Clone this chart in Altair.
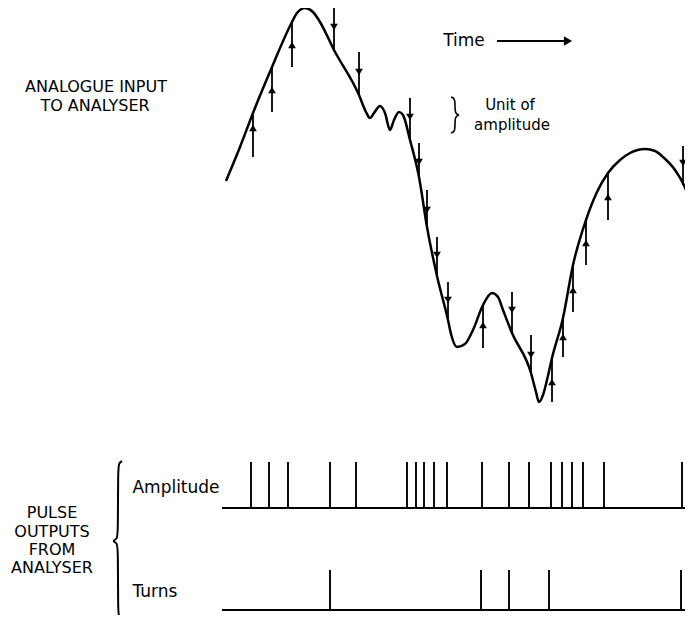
import altair as alt
import pandas as pd

# ---- analogue input curve (time, level) ----
curve_t = [226, 240, 253, 272, 292, 297, 305, 313, 320, 334, 359, 366, 370, 374, 380, 385, 390,
           394, 399, 403, 410, 419, 427, 437, 448, 451, 457, 465, 473, 483, 492, 498, 503, 512,
           531, 536, 539, 543, 547, 552, 563, 573, 586, 597, 608, 620, 630, 645, 655, 663, 675,
           686, 693]
curve_v = [181, 147, 113, 67, 22, 13, 8, 12, 22, 50, 95, 112, 118, 113, 106, 113, 130,
           120, 112, 115, 140, 177, 227, 276, 320, 334, 347, 344, 330, 305, 293, 297, 310, 333,
           373, 392, 402, 395, 380, 358, 318, 265, 220, 192, 173, 160, 153, 149, 151, 157, 170,
           190, 212]

# ---- sampling arrows ----
arrow_t    = [253, 272, 292, 334, 359, 410, 419, 427, 437, 448, 483, 512, 531, 552, 563, 573, 586, 608, 683]
arrow_from = [157, 112, 67, 7, 52, 98, 143, 190, 237, 282, 348, 292, 335, 402, 357, 312, 265, 220, 146]
arrow_to   = [113, 67, 22, 50, 95, 140, 177, 227, 276, 320, 305, 333, 373, 358, 318, 265, 220, 173, 185]
arrow_head = [128, 90, 45, 27, 72, 117, 162, 210, 255, 300, 325, 310, 355, 382, 337, 290, 243, 197, 163]

# ---- pulse outputs ----
amp_pulse_t = [251, 269, 288, 330, 356, 407, 416, 424, 434, 447, 482, 509, 529, 551, 562, 572, 583, 604, 682]
turn_pulse_t = [330, 481, 509, 549, 681]
amp_base, amp_top = 508, 462
turn_base, turn_top = 610, 570
track_start, track_end = 222, 693

# ---- labels ----
label_text = ["ANALOGUE INPUT", "TO ANALYSER", "Time", "Unit of", "amplitude", "Amplitude",
              "PULSE", "OUTPUTS", "FROM", "ANALYSER", "Turns"]
label_x = [96, 95, 464, 510, 512, 176, 52, 52, 52, 52, 155]
label_y = [87, 106, 41, 105, 125, 488, 513, 532, 550, 568, 592]
label_size = [16, 16, 17, 15, 15, 17, 16, 16, 16, 16, 17]

# ---- annotation shapes ----
time_arrow_x = [497, 568]
time_arrow_y = 41
unit_brace_x = [451, 454, 455, 455, 456, 460, 456, 455, 455, 454, 451]
unit_brace_y = [97, 98, 101, 111, 114, 115, 116, 119, 129, 132, 133]
big_brace_x = [122, 119, 118, 118, 117, 112, 117, 118, 118, 119, 122]
big_brace_y = [461, 463, 468, 535, 539, 541, 543, 547, 613, 617, 619]

XS = alt.Scale(domain=[8, 685])
YS = alt.Scale(domain=[8, 615], reverse=True)


def X(f, **kw):
    return alt.X(f, type="quantitative", scale=XS, axis=None, **kw)


def Y(f, **kw):
    return alt.Y(f, type="quantitative", scale=YS, axis=None, **kw)


curve_df = pd.DataFrame({"t": curve_t, "v": curve_v})
curve = alt.Chart(curve_df).mark_line(color="black", strokeWidth=2.5, interpolate="monotone").encode(
    x=X("t"), y=Y("v"))

arr_df = pd.DataFrame({"t": arrow_t, "a": arrow_from, "b": arrow_to, "h": arrow_head})
arr_df["shape"] = ["triangle-up" if b < a else "triangle-down" for a, b in zip(arrow_from, arrow_to)]
shafts = alt.Chart(arr_df).mark_rule(color="black", strokeWidth=1.8).encode(
    x=X("t"), y=Y("a"), y2="b")
heads = alt.Chart(arr_df).mark_point(filled=True, color="black", opacity=1, size=60).encode(
    x=X("t"), y=Y("h"), shape=alt.Shape("shape:N", scale=None))

amp_df = pd.DataFrame({"t": amp_pulse_t, "b": amp_base, "top": amp_top})
amp_p = alt.Chart(amp_df).mark_rule(color="black", strokeWidth=1.9).encode(
    x=X("t"), y=Y("b"), y2="top")
turn_df = pd.DataFrame({"t": turn_pulse_t, "b": turn_base, "top": turn_top})
turn_p = alt.Chart(turn_df).mark_rule(color="black", strokeWidth=1.9).encode(
    x=X("t"), y=Y("b"), y2="top")

base_df = pd.DataFrame({"x1": [track_start, track_start], "x2": [track_end, track_end],
                        "y": [amp_base, turn_base]})
bases = alt.Chart(base_df).mark_rule(color="black", strokeWidth=2.2).encode(
    x=X("x1"), x2="x2", y=Y("y"))

lab_df = pd.DataFrame({"text": label_text, "x": label_x, "y": label_y, "s": label_size})
labels = alt.Chart(lab_df).mark_text(font="DejaVu Sans", color="black", align="center",
                                     baseline="middle").encode(
    x=X("x"), y=Y("y"), text="text:N", size=alt.Size("s:Q", scale=None))

ta_df = pd.DataFrame({"x1": [time_arrow_x[0]], "x2": [time_arrow_x[1]], "y": [time_arrow_y]})
time_line = alt.Chart(ta_df).mark_rule(color="black", strokeWidth=1.8).encode(
    x=X("x1"), x2="x2", y=Y("y"))
time_head = alt.Chart(ta_df).mark_point(shape="triangle-right", filled=True, color="black",
                                        opacity=1, size=90).encode(x=X("x2"), y=Y("y"))

ub_df = pd.DataFrame({"x": unit_brace_x, "y": unit_brace_y, "o": list(range(len(unit_brace_x)))})
unit_brace = alt.Chart(ub_df).mark_line(color="black", strokeWidth=1.6, interpolate="basis").encode(
    x=X("x"), y=Y("y"), order="o:Q")
bb_df = pd.DataFrame({"x": big_brace_x, "y": big_brace_y, "o": list(range(len(big_brace_x)))})
big_brace = alt.Chart(bb_df).mark_line(color="black", strokeWidth=2, interpolate="basis").encode(
    x=X("x"), y=Y("y"), order="o:Q")

chart = alt.layer(curve, shafts, heads, amp_p, turn_p, bases, labels,
                  time_line, time_head, unit_brace, big_brace).properties(
    width=677, height=607, padding=0, autosize=alt.AutoSizeParams(type="none"),
    background="white").configure_view(stroke=None)

chart.save("out.html", embed_options={"renderer": "svg", "actions": False})
